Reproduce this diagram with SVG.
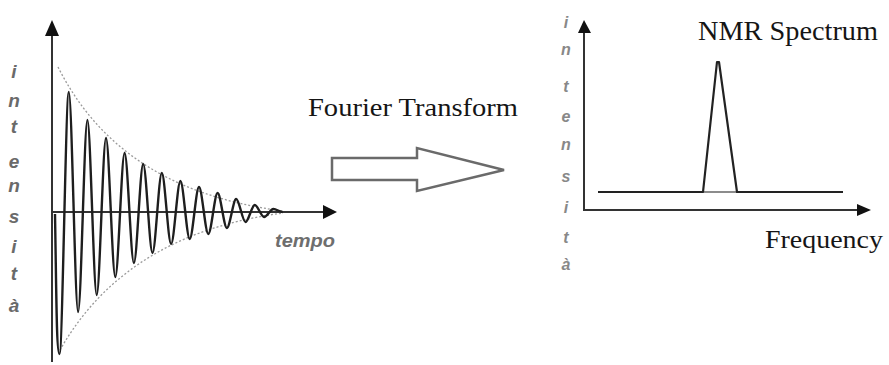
<svg xmlns="http://www.w3.org/2000/svg" width="889" height="365" viewBox="0 0 889 365">
  <style>
    .axis { stroke: #333; stroke-width: 2; fill: none; }
    .head { fill: #111; }
    .env { stroke: #9a9a9a; stroke-width: 1.3; stroke-dasharray: 2 2; fill: none; }
    .fid { stroke: #1e1e1e; stroke-width: 2.4; fill: none; stroke-linejoin: round; }
    .lbl { font-family: "Liberation Serif", "Times New Roman", serif; fill: #151515; }
    .ylab { font-family: "Liberation Sans", Arial, sans-serif; font-weight: bold; font-style: italic; text-anchor: middle; }
  </style>
  <rect width="889" height="365" fill="#ffffff"/>

  <!-- time-domain plot (FID) -->
  <g id="fid-plot">
    <line class="axis" x1="52" y1="34" x2="52" y2="362" stroke="#555"/>
    <polygon class="head" points="52,20 45,36 59,36"/>
    <line class="axis" x1="52" y1="212" x2="324" y2="212"/>
    <polygon class="head" points="337,212 323,205 323,219"/>
    <path class="env" d="M 58 67 C 95 140 160 195 283 211"/>
    <path class="env" d="M 60 350 C 97 285 162 229 283 213"/>
    <path class="fid" d="M 55 214 C 56.5 300 56.5 354 59.5 354 S 65.8 92 68.8 92 S 75.1 312 78.1 312 S 84.4 120 87.4 120 S 93.7 295 96.7 295 S 103 138 106 138 S 112.3 277 115.3 277 S 121.6 153 124.6 153 S 130.9 263 133.9 263 S 140.2 164 143.2 164 S 149.5 253 152.5 253 S 158.8 173 161.8 173 S 168.1 244 171.1 244 S 177.4 181 180.4 181 S 186.7 239 189.7 239 S 196 187 199 187 S 205.3 234 208.3 234 S 214.6 193 217.6 193 S 223.9 228 226.9 228 S 233.2 199 236.2 199 S 242.5 222 245.5 222 S 251.8 205 254.8 205 S 261.1 217 264.1 217 S 270.4 209 273.4 209 S 279.7 212 282.7 212"/>
    <g class="ylab" font-size="19" fill="#6a6a6a">
      <text x="14" y="78">i</text>
      <text x="14" y="107">n</text>
      <text x="14" y="133">t</text>
      <text x="14" y="168">e</text>
      <text x="14" y="192">n</text>
      <text x="14" y="223">s</text>
      <text x="14" y="253">i</text>
      <text x="14" y="280">t</text>
      <text x="14" y="312">à</text>
    </g>
    <text x="275" y="247" font-family="Liberation Sans, Arial, sans-serif" font-weight="bold" font-style="italic" font-size="18" fill="#6e6e6e" textLength="60" lengthAdjust="spacingAndGlyphs">tempo</text>
  </g>

  <!-- transform arrow -->
  <g id="transform">
    <polygon points="332,158 417,158 417,148 504,170 417,191 417,180 332,180" fill="#ffffff" stroke="#6a6a6a" stroke-width="2.5" stroke-linejoin="miter"/>
    <text class="lbl" x="308" y="116" font-size="25" textLength="210" lengthAdjust="spacingAndGlyphs">Fourier Transform</text>
  </g>

  <!-- frequency-domain plot (spectrum) -->
  <g id="spectrum-plot">
    <line class="axis" x1="584" y1="32" x2="584" y2="211" stroke="#555"/>
    <polygon class="head" points="584,20 578,33 591,33"/>
    <line class="axis" x1="584" y1="210" x2="858" y2="210"/>
    <polygon class="head" points="871,210 857,204 857,216"/>
    <line x1="598" y1="192" x2="843" y2="192" stroke="#666" stroke-width="1.6"/>
    <polyline points="598,192 703,192 717,62 719,62 737,192 843,192" fill="none" stroke="#222" stroke-width="2.2" stroke-linejoin="round"/>
    <g class="ylab" font-size="16" fill="#888888">
      <text x="566" y="28">i</text>
      <text x="566" y="55">n</text>
      <text x="566" y="92">t</text>
      <text x="566" y="122">e</text>
      <text x="566" y="150">n</text>
      <text x="566" y="182">s</text>
      <text x="566" y="213">i</text>
      <text x="566" y="243">t</text>
      <text x="566" y="270">à</text>
    </g>
    <text class="lbl" x="698" y="40" font-size="27" textLength="180" lengthAdjust="spacingAndGlyphs">NMR Spectrum</text>
    <text class="lbl" x="765" y="248" font-size="25" textLength="118" lengthAdjust="spacingAndGlyphs">Frequency</text>
  </g>
</svg>
